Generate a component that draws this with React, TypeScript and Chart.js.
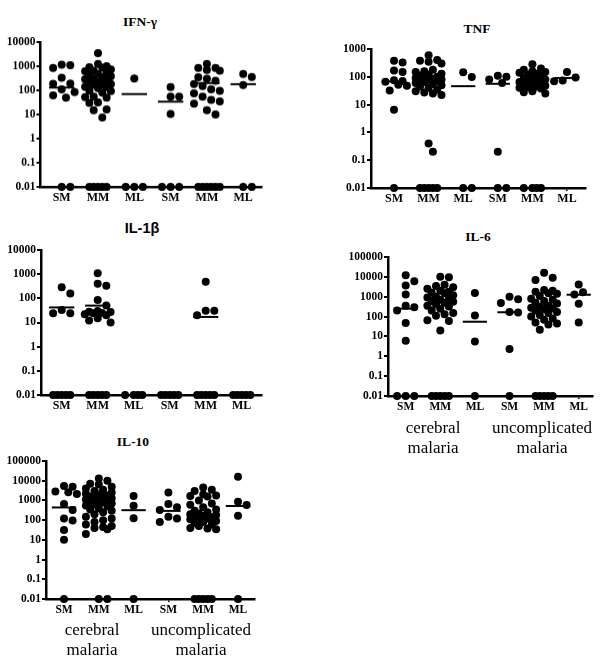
import React, { useEffect, useRef } from 'react';
import { Chart, registerables } from 'chart.js';
Chart.register(...registerables);

const ND = 0.01; // below detection, drawn on the axis
const groupLabels = ['SM', 'MM', 'ML', 'SM', 'MM', 'ML'];
const decadeTicksSmall = [0.01, 0.1, 1, 10, 100, 1000];
const decadeTicks4 = [0.01, 0.1, 1, 10, 100, 1000, 10000];
const decadeTicks5 = [0.01, 0.1, 1, 10, 100, 1000, 10000, 100000];

const ifnGamma: number[][] = [
  [1150, 1100, 850, 330, 190, 185, 110, 85, 62, 50, ND, ND],
  [3500, 1250, 1000, 900, 860, 730, 650, 620, 520, 480, 425, 380, 355, 300, 290, 270, 210, 200, 180, 175, 170, 140, 135, 125, 95, 92, 80, 55, 52, 50, 32, 30, 16, 15, 7.5, ND, ND, ND, ND, ND],
  [310, ND, ND, ND],
  [135, 55, 55, 10.5, ND, ND, ND],
  [1250, 850, 850, 700, 650, 350, 300, 250, 180, 150, 110, 95, 75, 55, 40, 35, 28, 15, 10, ND, ND, ND, ND, ND, ND],
  [480, 355, 165, ND, ND],
];
const ifnGammaMedians = [130, 290, 70, 34, 200, 180];

const tnf: number[][] = [
  [380, 330, 170, 150, 75, 70, 66, 52, 48, 32, 6.5, ND],
  [590, 400, 380, 350, 300, 180, 160, 150, 130, 120, 110, 100, 95, 90, 85, 80, 78, 75, 70, 65, 60, 55, 50, 45, 40, 35, 30, 27, 25, 22, 0.4, 0.2, ND, ND, ND, ND, ND],
  [145, 98, ND, ND],
  [110, 100, 80, 60, 0.2, ND, ND],
  [280, 200, 180, 160, 150, 140, 130, 120, 110, 100, 90, 80, 75, 70, 65, 60, 55, 50, 48, 45, 42, 40, 38, 30, 28, 25, ND, ND, ND, ND],
  [148, 95, 73, 69],
];
const tnfMedians = [68, 75, 46, 56, 62, 90];

const il1b: number[][] = [
  [290, 160, 33, 24, 24, ND, ND, ND, ND, ND],
  [1100, 400, 330, 85, 50, 30, 28, 27, 25, 24, 22, 20, 15, 12, 10, ND, ND, ND, ND, ND],
  [ND, ND, ND, ND],
  [ND, ND, ND, ND, ND],
  [490, 31, 31, 20, ND, ND, ND, ND, ND],
  [ND, ND, ND, ND, ND],
];
const il1bMedians: (number | null)[] = [42, 50, null, null, 17, null];

const il6: number[][] = [
  [12000, 6000, 3700, 1300, 355, 295, 200, 48, 6, ND, ND, ND],
  [10000, 9500, 4000, 3500, 3000, 2500, 2000, 1800, 1600, 1500, 1200, 1000, 900, 800, 700, 600, 550, 500, 400, 350, 320, 250, 200, 150, 130, 110, 65, 60, 20, ND, ND, ND, ND, ND],
  [1550, 112, 5.5, ND],
  [1000, 750, 480, 170, 160, 2.3, ND],
  [16000, 9000, 7000, 2200, 2000, 1800, 1500, 1400, 1100, 800, 700, 600, 500, 450, 350, 300, 280, 260, 240, 200, 170, 150, 120, 100, 80, 70, 50, 45, 40, 22, ND, ND, ND, ND, ND],
  [4100, 1700, 1300, 440, 51],
];
const il6Medians = [250, 600, 55, 165, 260, 1260];

const il10: number[][] = [
  [5400, 5000, 2800, 2600, 2100, 650, 330, 120, 95, 32, 10, ND],
  [13000, 10000, 7000, 6500, 5000, 4000, 3500, 3000, 2500, 2200, 2000, 1800, 1600, 1500, 1300, 1200, 1100, 1000, 900, 850, 800, 700, 600, 550, 500, 400, 350, 300, 250, 200, 150, 120, 100, 80, 60, 50, 45, 40, 35, 20, ND, ND],
  [1700, 530, 125, ND],
  [2500, 650, 450, 330, 150, 120, 80],
  [4500, 3500, 3000, 2000, 1800, 1700, 1600, 1000, 700, 600, 450, 350, 300, 250, 220, 200, 180, 160, 150, 140, 130, 120, 110, 90, 80, 70, 60, 50, 40, 38, 35, ND, ND, ND, ND, ND],
  [16000, 850, 580, 165, ND],
];
const il10Medians = [440, 750, 320, 295, 150, 520];

type Panel = {
  title: string;
  sans?: boolean;
  data: number[][];
  medians: (number | null)[];
  ticks: number[];
  l: number; t: number; r: number; b: number;
  cat0: number; step: number;
  tx: number; ty: number;
  xFont: number;
};

const panels: Panel[] = [
  { title: 'IFN-γ', data: ifnGamma, medians: ifnGammaMedians, ticks: decadeTicks4, l: 40.5, t: 42.3, r: 262, b: 186.7, cat0: 61.7, step: 36.3, tx: 140, ty: 22, xFont: 12 },
  { title: 'TNF', data: tnf, medians: tnfMedians, ticks: decadeTicksSmall, l: 371, t: 49.3, r: 586, b: 188.3, cat0: 394, step: 34.6, tx: 477, ty: 29, xFont: 12 },
  { title: 'IL-1β', sans: true, data: il1b, medians: il1bMedians, ticks: decadeTicks4, l: 41, t: 250, r: 262, b: 395, cat0: 61.7, step: 36, tx: 142, ty: 228, xFont: 12 },
  { title: 'IL-6', data: il6, medians: il6Medians, ticks: decadeTicks5, l: 388, t: 256.7, r: 593, b: 395.7, cat0: 405.7, step: 34.6, tx: 478, ty: 237, xFont: 11.5 },
  { title: 'IL-10', data: il10, medians: il10Medians, ticks: decadeTicks5, l: 46, t: 461, r: 255, b: 599.3, cat0: 64, step: 34.8, tx: 133, ty: 442, xFont: 11.5 },
];

// dot-plot layout: points that would overlap are moved sideways into columns
function swarm(values: number[], pxPerDecade: number, pxPerCat: number) {
  const D = 8.6;
  const cands = [0, 4.3, -4.3, 8.6, -8.6, 12.9, -12.9];
  const placed: { x: number; y: number }[] = [];
  const sorted = [...values].sort((a, b) => b - a);
  return sorted.map((v) => {
    const y = Math.log10(v) * pxPerDecade;
    let best = 0;
    let bestD = -1;
    for (const off of cands) {
      let md = Infinity;
      for (const p of placed) md = Math.min(md, Math.hypot(p.x - off, p.y - y));
      if (md >= D) { best = off; bestD = md; break; }
      if (md > bestD + 0.01) { bestD = md; best = off; }
    }
    placed.push({ x: best, y });
    return { dx: best / pxPerCat, v };
  });
}

const serif = '"Liberation Serif", "Times New Roman", serif';

function PanelChart({ p }: { p: Panel }) {
  const ref = useRef<HTMLCanvasElement>(null);
  const cl = Math.max(0, p.l - 46);
  const ct = p.t - 8;
  const cr = p.r + 6;
  const cb = p.b + 24;
  const w = cr - cl;
  const h = cb - ct;
  useEffect(() => {
    const decades = Math.log10(p.ticks[p.ticks.length - 1] / p.ticks[0]);
    const pxPerDecade = (p.b - p.t) / decades;
    const points: { x: number; y: number }[] = [];
    p.data.forEach((vals, gi) => {
      swarm(vals, pxPerDecade, p.step).forEach((s) => points.push({ x: gi + s.dx, y: s.v }));
    });
    const medianSets = p.medians
      .map((m, gi) =>
        m == null
          ? null
          : {
              data: [{ x: gi - 0.35, y: m }, { x: gi + 0.35, y: m }],
              showLine: true,
              borderColor: '#000',
              borderWidth: 2,
              pointRadius: 0,
              clip: false as const,
            }
      )
      .filter(Boolean) as any[];
    const chart = new Chart(ref.current!, {
      type: 'scatter',
      data: {
        datasets: [
          {
            data: points,
            pointRadius: 4,
            pointBackgroundColor: '#000',
            pointBorderWidth: 0,
            clip: false as any,
          },
          ...medianSets,
        ],
      },
      options: {
        animation: false,
        responsive: false,
        maintainAspectRatio: false,
        layout: { padding: { top: 8, right: 6, left: 0, bottom: 0 } },
        plugins: { legend: { display: false }, tooltip: { enabled: false }, title: { display: false } },
        scales: {
          x: {
            type: 'linear',
            min: (p.l - p.cat0) / p.step,
            max: (p.r - p.cat0) / p.step,
            afterFit: (s: any) => { s.height = cb - p.b; },
            afterBuildTicks: (s: any) => { s.ticks = groupLabels.map((_, i) => ({ value: i })); },
            ticks: {
              callback: (v: any) => groupLabels[v as number] ?? '',
              color: '#000',
              font: { family: serif, size: p.xFont, weight: 'bold' },
              padding: 1,
              autoSkip: false,
              maxRotation: 0,
            },
            grid: { drawOnChartArea: false, drawTicks: true, tickLength: 3, color: '#000', lineWidth: 1.5 },
            border: { color: '#000', width: 2.5 },
          },
          y: {
            type: 'logarithmic',
            min: p.ticks[0],
            max: p.ticks[p.ticks.length - 1],
            afterFit: (s: any) => { s.width = p.l - cl; },
            afterBuildTicks: (s: any) => { s.ticks = p.ticks.map((v) => ({ value: v })); },
            ticks: {
              callback: (v: any) => String(v),
              color: '#000',
              font: { family: serif, size: 11.5, weight: 'bold' },
              padding: 1,
              autoSkip: false,
            },
            grid: { drawOnChartArea: false, drawTicks: true, tickLength: 4, color: '#000', lineWidth: 2 },
            border: { color: '#000', width: 2.5 },
          },
        },
      } as any,
    });
    return () => chart.destroy();
  }, []);
  return (
    <>
      <canvas ref={ref} width={w} height={h} style={{ position: 'absolute', left: cl, top: ct, width: w, height: h }} />
      <div
        style={{
          position: 'absolute',
          left: p.tx,
          top: p.ty - 9,
          height: 18,
          lineHeight: '18px',
          transform: 'translateX(-50%)',
          whiteSpace: 'nowrap',
          fontFamily: p.sans ? '"Liberation Sans", Arial, sans-serif' : serif,
          fontWeight: 'bold',
          fontSize: p.sans ? 14.5 : 13.5,
          color: '#000',
        }}
      >
        {p.title}
      </div>
    </>
  );
}

const groupCaptions = [
  { text: ['cerebral', 'malaria'], x: 433, y: 428 },
  { text: ['uncomplicated', 'malaria'], x: 542, y: 428 },
  { text: ['cerebral', 'malaria'], x: 92, y: 630 },
  { text: ['uncomplicated', 'malaria'], x: 201, y: 630 },
];

export default function App() {
  useEffect(() => {
    document.body.style.margin = '0';
  }, []);
  return (
    <div style={{ position: 'relative', width: 600, height: 665, background: '#fff', overflow: 'hidden' }}>
      {panels.map((p, i) => (
        <PanelChart key={i} p={p} />
      ))}
      {groupCaptions.map((c, i) => (
        <div
          key={'c' + i}
          style={{
            position: 'absolute',
            left: c.x,
            top: c.y - 10,
            transform: 'translateX(-50%)',
            textAlign: 'center',
            fontFamily: serif,
            fontSize: 17,
            lineHeight: '20px',
            color: '#000',
            whiteSpace: 'nowrap',
          }}
        >
          {c.text[0]}
          <br />
          {c.text[1]}
        </div>
      ))}
    </div>
  );
}
